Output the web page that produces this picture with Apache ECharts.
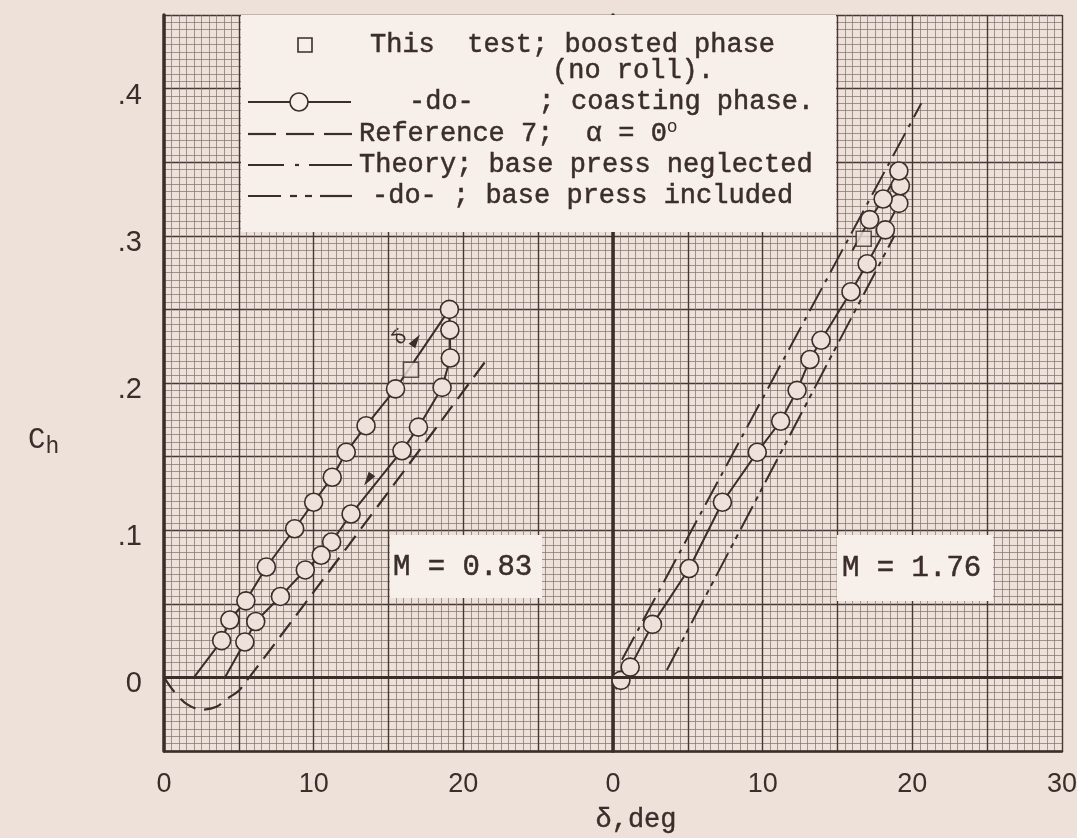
<!DOCTYPE html>
<html>
<head>
<meta charset="utf-8">
<script src="https://cdn.jsdelivr.net/npm/echarts@6/dist/echarts.min.js"></script>
<style>
  html, body { margin: 0; padding: 0; background: #ede1da; }
  #chart { width: 1077px; height: 838px; }
</style>
</head>
<body>
<div id="chart"></div>
<script>
// M = 0.83 : coasting phase loop (first and last points are the ends of the faired line)
const leftLoopDeg = [2.0, 3.85, 4.4, 5.47, 6.84, 8.73, 10.0, 11.24, 12.18, 13.5, 15.47, 19.07, 19.1, 19.13, 18.58, 17.0, 15.9, 12.5, 11.2, 10.5, 9.44, 7.78, 6.13, 5.4, 4.07];
const leftLoopCh  = [0, 0.025, 0.039, 0.052, 0.075, 0.101, 0.119, 0.136, 0.153, 0.171, 0.196, 0.25, 0.236, 0.217, 0.197, 0.17, 0.154, 0.111, 0.092, 0.083, 0.073, 0.055, 0.038, 0.024, 0];
const leftBoostDeg = [16.5];
const leftBoostCh  = [0.209];
// Reference 7, alpha = 0
const leftRefDeg = [0, 0.7, 1.5, 2.5, 3.5, 4.3, 5.1, 21.5];
const leftRefCh  = [0, -0.01, -0.018, -0.022, -0.02, -0.014, -0.008, 0.215];

// M = 1.76
const rightLoopDeg = [0.2, 0.53, 1.15, 2.64, 5.09, 7.31, 9.64, 11.2, 12.3, 13.16, 13.9, 15.9, 16.98, 18.2, 19.1, 19.2, 19.1, 18.05, 17.15, 16.0];
const rightLoopCh  = [-0.008, -0.002, 0.007, 0.036, 0.074, 0.119, 0.153, 0.174, 0.195, 0.216, 0.229, 0.262, 0.281, 0.304, 0.322, 0.334, 0.344, 0.325, 0.311, 0.29];
const rightBoostDeg = [16.75];
const rightBoostCh  = [0.298];
// theory lines
const rightNeglDeg = [0.6, 20.6];
const rightNeglCh  = [0.012, 0.39];
const rightInclDeg = [3.6, 18.8];
const rightInclCh  = [0.005, 0.30];

const xTicksLeft  = [0, 10, 20];
const xTicksRight = [0, 10, 20, 30];
const yTicks = [0, 0.1, 0.2, 0.3, 0.4];
const yTickText = ['0', '.1', '.2', '.3', '.4'];

const ink = '#3a2d2a';
const paper = '#ede1da';
const boxFill = '#f6efea';
const mono = '"Liberation Mono", "DejaVu Sans Mono", monospace';
const hand = '"Liberation Sans", "DejaVu Sans", sans-serif';

const pairs = (xs, ys) => xs.map((x, i) => [x, ys[i]]);

// loop data: circles everywhere except at the two free ends of the faired line
const loopData = (xs, ys) => xs.map((x, i) => ({
  value: [x, ys[i]],
  symbol: (i === 0 || i === xs.length - 1) ? 'none' : 'circle'
}));

function xAxis(gridIndex, ticks) {
  return {
    type: 'value', gridIndex, min: 0, max: 30, interval: 5,
    axisLine: { show: true, onZero: false, lineStyle: { color: ink, width: 2.5 } },
    axisTick: { show: false },
    axisLabel: {
      color: ink, fontSize: 27, fontFamily: hand, margin: 20,
      formatter: v => ticks.includes(v) ? String(v) : ''
    },
    splitLine: { show: true, lineStyle: { color: '#453733', width: 1.4 } },
    minorTick: { show: false, splitNumber: 10 },
    minorSplitLine: { show: true, lineStyle: { color: '#7d6e69', width: 0.7 } }
  };
}

function yAxis(gridIndex, showLabels) {
  return {
    type: 'value', gridIndex, min: -0.05, max: 0.45, interval: 0.05,
    axisLine: { show: true, onZero: false, lineStyle: { color: ink, width: 3.5 } },
    axisTick: { show: false },
    axisLabel: {
      show: showLabels, color: ink, fontSize: 29, fontFamily: hand, margin: 22,
      formatter: v => {
        const k = yTicks.findIndex(t => Math.abs(t - v) < 1e-6);
        return k >= 0 ? '{v|' + yTickText[k] + '}' : '';
      },
      rich: { v: { fontSize: 29, fontFamily: hand, color: ink, padding: [14, 0, 0, 0] } }
    },
    splitLine: { show: true, lineStyle: { color: '#453733', width: 1.4 } },
    minorTick: { show: false, splitNumber: 10 },
    minorSplitLine: { show: true, lineStyle: { color: '#7d6e69', width: 0.7 } }
  };
}

const zeroLine = {
  silent: true, symbol: 'none', label: { show: false },
  lineStyle: { color: ink, width: 3, type: 'solid' },
  data: [{ yAxis: 0 }]
};

const circleStyle = { color: paper, borderColor: ink, borderWidth: 1.6 };
const squareStyle = { color: paper, borderColor: ink, borderWidth: 1.6 };

// legend box drawn as graphic (custom typewriter layout)
const legY = [45, 71, 102, 134, 165, 196];
const seg = (x1, x2, y, w) => ({
  type: 'line', shape: { x1, y1: y, x2, y2: y },
  style: { stroke: ink, lineWidth: w || 2.2 }, z: 101
});
const txt = (x, y, text, size) => ({
  type: 'text', x, y, z: 101,
  style: { text, fill: ink, stroke: ink, lineWidth: 0.5, font: `${size || 27}px ${mono}`, verticalAlign: 'middle' }
});
const arrow = (x, y, rot) => ({
  type: 'polygon', x, y, rotation: rot, z: 50,
  shape: { points: [[0, -4], [14, 0], [0, 4]] },
  style: { fill: ink }
});

const graphic = [
  { type: 'rect', shape: { x: 241, y: 15, width: 595, height: 217 }, style: { fill: boxFill }, z: 100 },
  { type: 'rect', shape: { x: 298, y: legY[0] - 7, width: 14, height: 14 }, style: { fill: 'none', stroke: ink, lineWidth: 1.6 }, z: 101 },
  txt(370, legY[0], 'This  test; boosted phase'),
  txt(552, legY[1], '(no roll).'),
  seg(248, 290, legY[2]), seg(308, 351, legY[2]),
  { type: 'circle', shape: { cx: 299, cy: legY[2], r: 9 }, style: { fill: 'none', stroke: ink, lineWidth: 1.6 }, z: 101 },
  txt(409, legY[2], '-do-    ; coasting phase.'),
  seg(248, 276, legY[3]), seg(286, 314, legY[3]), seg(324, 352, legY[3]),
  {
    type: 'text', x: 359, y: legY[3], z: 101,
    style: {
      text: '{t|Reference 7;  \u03b1 = 0}{s|o}', verticalAlign: 'middle', fill: ink,
      rich: {
        t: { font: `27px ${mono}`, fill: ink, stroke: ink, lineWidth: 0.5 },
        s: { font: `18px ${mono}`, fill: ink, verticalAlign: 'top', padding: [0, 0, 14, 0] }
      }
    }
  },
  seg(248, 284, legY[4]), seg(295, 299, legY[4]), seg(309, 352, legY[4]),
  txt(359, legY[4], 'Theory; base press neglected'),
  seg(248, 281, legY[5]), seg(290, 297, legY[5]), seg(305, 312, legY[5]), seg(320, 352, legY[5]),
  txt(372, legY[5], '-do- ; base press included'),

  // Mach number boxes
  { type: 'rect', shape: { x: 390, y: 535, width: 152, height: 63 }, style: { fill: boxFill }, z: 100 },
  txt(393, 567, 'M = 0.83', 29),
  { type: 'rect', shape: { x: 837, y: 535, width: 156, height: 66 }, style: { fill: boxFill }, z: 100 },
  txt(842, 568, 'M = 1.76', 29),

  // rate label and direction arrows on the M = 0.83 loop
  { type: 'text', x: 400, y: 338, z: 50, rotation: 0.9, style: { text: '\u03b4\u0307', fill: ink, font: `20px ${hand}`, align: 'center', verticalAlign: 'middle' } },
  arrow(412, 346, 0.97),
  arrow(372, 474, 0.97 + Math.PI),

  // axis titles
  {
    type: 'text', x: 28, y: 440, z: 101,
    style: {
      text: '{c|C}{h|h}', verticalAlign: 'middle', fill: ink,
      rich: { c: { font: `29px ${mono}`, fill: ink }, h: { font: `23px ${mono}`, fill: ink, padding: [14, 0, 0, 0] } }
    }
  },
  { type: 'text', x: 636, y: 820, z: 101, style: { text: '\u03b4,deg', fill: ink, stroke: ink, lineWidth: 0.4, font: `27px ${mono}`, align: 'center', verticalAlign: 'middle' } }
];

const chart = echarts.init(document.getElementById('chart'));
chart.setOption({
  backgroundColor: paper,
  animation: false,
  grid: [
    { left: 164, top: 15, width: 449, height: 736, outerBoundsMode: 'none', containLabel: false },
    { left: 613, top: 15, width: 449, height: 736, outerBoundsMode: 'none', containLabel: false }
  ],
  xAxis: [xAxis(0, xTicksLeft), xAxis(1, xTicksRight)],
  yAxis: [yAxis(0, true), yAxis(1, false)],
  series: [
    {
      name: 'Reference 7', type: 'line', xAxisIndex: 0, yAxisIndex: 0, z: 3,
      data: pairs(leftRefDeg, leftRefCh), smooth: 0.3, showSymbol: false,
      lineStyle: { color: ink, width: 2.2, type: [18, 9] },
      markLine: zeroLine
    },
    {
      name: 'coasting', type: 'line', xAxisIndex: 0, yAxisIndex: 0, z: 4,
      data: loopData(leftLoopDeg, leftLoopCh), symbolSize: 18,
      lineStyle: { color: ink, width: 2 }, itemStyle: circleStyle
    },
    {
      name: 'boosted', type: 'scatter', xAxisIndex: 0, yAxisIndex: 0, z: 5,
      data: pairs(leftBoostDeg, leftBoostCh), symbol: 'rect', symbolSize: 15, itemStyle: squareStyle
    },
    {
      name: 'Theory neglected', type: 'line', xAxisIndex: 1, yAxisIndex: 1, z: 3,
      data: pairs(rightNeglDeg, rightNeglCh), showSymbol: false,
      lineStyle: { color: ink, width: 2, type: [26, 7, 4, 7] },
      markLine: zeroLine
    },
    {
      name: 'Theory included', type: 'line', xAxisIndex: 1, yAxisIndex: 1, z: 3,
      data: pairs(rightInclDeg, rightInclCh), showSymbol: false,
      lineStyle: { color: ink, width: 2, type: [26, 6, 5, 5, 5, 6] }
    },
    {
      name: 'coasting M1.76', type: 'line', xAxisIndex: 1, yAxisIndex: 1, z: 4,
      data: loopData(rightLoopDeg, rightLoopCh), symbolSize: 18,
      lineStyle: { color: ink, width: 2 }, itemStyle: circleStyle
    },
    {
      name: 'boosted M1.76', type: 'scatter', xAxisIndex: 1, yAxisIndex: 1, z: 5,
      data: pairs(rightBoostDeg, rightBoostCh), symbol: 'rect', symbolSize: 15, itemStyle: squareStyle
    }
  ],
  graphic
});
</script>
</body>
</html>
